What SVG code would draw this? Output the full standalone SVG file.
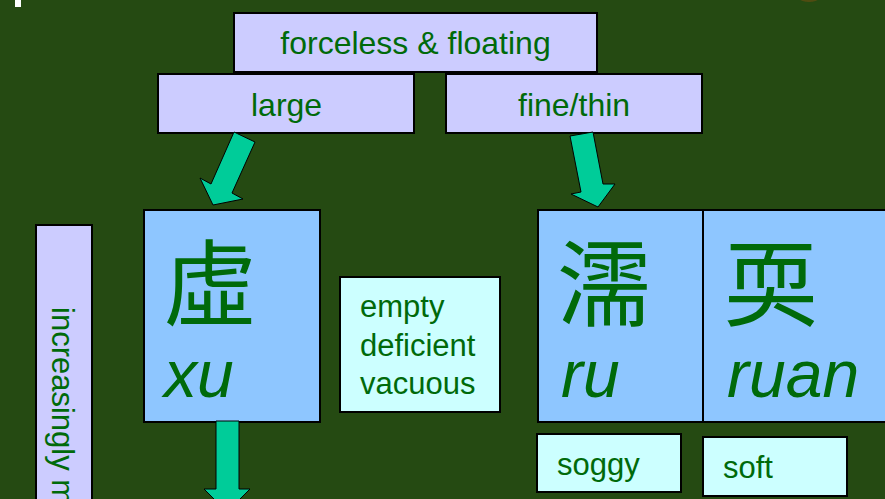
<svg xmlns="http://www.w3.org/2000/svg" width="885" height="499" viewBox="0 0 885 499">
<defs>
<style>
.lav{fill:#ccccff;stroke:#000;stroke-width:2}
.blue{fill:#8ec6ff;stroke:#000;stroke-width:2}
.cyan{fill:#ccffff;stroke:#000;stroke-width:2}
.arrow{fill:#00cc99;stroke:#000;stroke-width:1}
.t{font-family:"Liberation Sans",Arial,sans-serif;fill:#006a0a}
.lbl{font-size:32px}
.sm{font-size:31px}
.py{font-size:66px;font-style:italic}
.cjk{font-family:"Noto Sans CJK TC","Noto Sans CJK SC",sans-serif;font-size:94px;fill:#006a0a}
</style>
</defs>
<rect width="885" height="499" fill="#254a12"/>
<rect x="15" y="0" width="6" height="7" fill="#ffffff"/>
<ellipse cx="809" cy="-1" rx="9" ry="3" fill="#a05010" opacity="0.35"/>

<g id="forceless">
<rect class="lav" x="234" y="13" width="363" height="59"/>
<text class="t lbl" x="415.5" y="54" text-anchor="middle">forceless &amp; floating</text>
</g>
<g id="large">
<rect class="lav" x="158" y="74" width="256" height="59"/>
<text class="t lbl" x="251" y="116">large</text>
</g>
<g id="fine">
<rect class="lav" x="446" y="74" width="256" height="59"/>
<text class="t lbl" x="518" y="116">fine/thin</text>
</g>
<g id="increasingly">
<rect class="lav" x="36" y="225" width="56" height="290"/>
<text class="t sm" transform="translate(52,307) rotate(90)">increasingly m</text>
</g>
<g id="xu">
<rect class="blue" x="144" y="210" width="176" height="212"/>
<text class="cjk" x="163" y="319">虛</text>
<text class="t py" x="164" y="397">xu</text>
</g>
<g id="empty">
<rect class="cyan" x="340" y="277" width="160" height="135"/>
<text class="t sm" x="360" y="317">empty</text>
<text class="t sm" x="360" y="356">deficient</text>
<text class="t sm" x="360" y="394">vacuous</text>
</g>
<g id="ru">
<rect class="blue" x="538" y="210" width="165" height="212"/>
<text class="cjk" x="557" y="319">濡</text>
<text class="t py" x="561" y="397">ru</text>
</g>
<g id="ruan">
<rect class="blue" x="703" y="210" width="190" height="212"/>
<text class="cjk" x="724" y="319">耎</text>
<text class="t py" x="727" y="397">ruan</text>
</g>
<g id="soggy">
<rect class="cyan" x="537" y="434" width="144" height="58"/>
<text class="t sm" x="557" y="475">soggy</text>
</g>
<g id="soft">
<rect class="cyan" x="703" y="437" width="144" height="59"/>
<text class="t sm" x="723" y="478">soft</text>
</g>

<g id="connectors">
<polygon class="arrow" points="234,132 255,142 232,193 243,199 213,205 200,178 211,184"/>
<polygon class="arrow" points="570,136 593,132 603,184 615,184 598,207 571,194 581,192"/>
<polygon class="arrow" points="216,421 239,421 239,489 250,489 227,512 204,489 216,489"/>
</g>
</svg>
